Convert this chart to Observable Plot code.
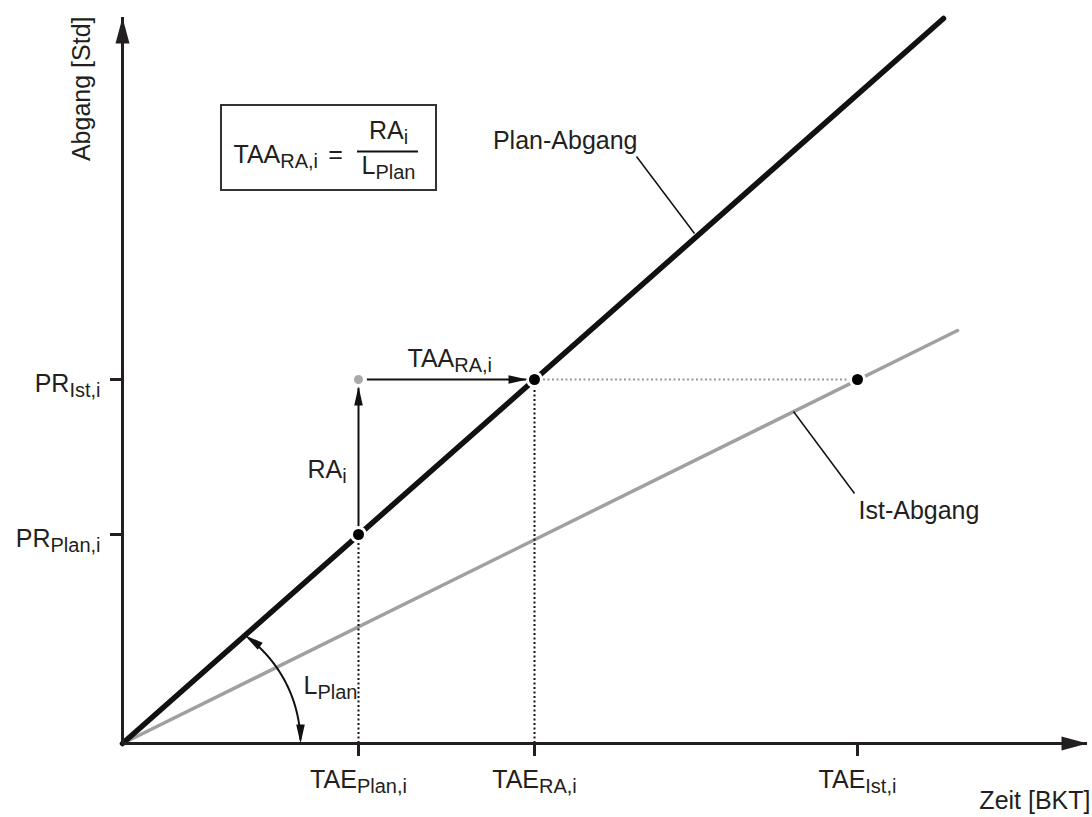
<!DOCTYPE html>
<html>
<head>
<meta charset="utf-8">
<script src="https://cdn.jsdelivr.net/npm/d3@7"></script>
<script src="https://cdn.jsdelivr.net/npm/@observablehq/plot@0.6"></script>
<style>
  html, body { margin: 0; padding: 0; background: #fff; }
  #chart svg { display: block; }
</style>
</head>
<body>
<div id="chart"></div>
<script>
// ---- data (abstract units: Zeit [BKT] on x, Abgang [Std] on y) ----
const xTickLabels = ["TAE_{Plan,i}", "TAE_{RA,i}", "TAE_{Ist,i}"];
const xTickValues = [23.6, 41.2, 73.5];
const yTickLabels = ["PR_{Plan,i}", "PR_{Ist,i}"];
const yTickValues = [20.9, 36.4];
const planLine = [{t: 0, v: 0}, {t: 82.1, v: 72.5}];
const istLine = [{t: 0, v: 0}, {t: 83.5, v: 41.3}];
const axisEnds = {x: 96.5, y: 72.6};

const [TAE_Plan, TAE_RA, TAE_Ist] = xTickValues;
const [PR_Plan, PR_Ist] = yTickValues;

// points
const blackPoints = [{t: TAE_Plan, v: PR_Plan}, {t: TAE_RA, v: PR_Ist}, {t: TAE_Ist, v: PR_Ist}];
const grayPoints = [{t: TAE_Plan, v: PR_Ist}];

// angle arc (L_Plan annotation)
const arcC = 4.5, arcR = 13.3, arcEnd = 54.5;
const arcPts = d3.range(2, arcEnd - 2.4, 0.5).map(a => ({
  t: arcC + arcR * Math.cos(a * Math.PI / 180),
  v: arcR * Math.sin(a * Math.PI / 180)
}));
const arcTop = {t: arcC + arcR * Math.cos(arcEnd * Math.PI / 180), v: arcR * Math.sin(arcEnd * Math.PI / 180), rot: -arcEnd};
const arcBottom = {t: arcC + arcR, v: 0, rot: 180};

// arrowhead symbols (tip at origin, pointing up)
const headSmall = {draw(ctx) { ctx.moveTo(0, 0); ctx.lineTo(-4.3, 19); ctx.lineTo(4.3, 19); ctx.closePath(); }};
const headBig = {draw(ctx) { ctx.moveTo(0, 0); ctx.lineTo(-7, 26); ctx.lineTo(7, 26); ctx.closePath(); }};

const ink = "#231f20";
const font = "'Liberation Sans', Arial, Helvetica, sans-serif";
const FS = 25, SUB = 20;

const svg = Plot.plot({
  width: 1092,
  height: 817,
  margin: 0,
  x: {domain: [-12.2, 97], range: [0, 1092], axis: null},
  y: {domain: [-7.4, 74.3], range: [817, 0], axis: null},
  style: {fontFamily: font, background: "#fff"},
  marks: [
    // Ist / Plan lines
    Plot.line(istLine, {x: "t", y: "v", stroke: "#a0a0a0", strokeWidth: 3.5}),
    Plot.line(planLine, {x: "t", y: "v", stroke: "#111", strokeWidth: 5.5}),
    // dotted guides
    Plot.ruleX([{t: TAE_Plan, v: PR_Plan}, {t: TAE_RA, v: PR_Ist}], {x: "t", y1: 0, y2: "v", stroke: "#111", strokeWidth: 2, strokeDasharray: "2,2.5"}),
    Plot.ruleY([{v: PR_Ist, a: TAE_RA, b: TAE_Ist}], {y: "v", x1: "a", x2: "b", stroke: "#999", strokeWidth: 2, strokeDasharray: "2,2.5"}),
    // RA and TAA arrows (shafts)
    Plot.link([{a: TAE_Plan, b: PR_Plan, c: TAE_Plan, d: PR_Ist}, {a: TAE_Plan, b: PR_Ist, c: TAE_RA, d: PR_Ist}],
      {x1: "a", y1: "b", x2: "c", y2: "d", stroke: "#111", strokeWidth: 2}),
    // leader lines
    Plot.link([{a: 51.4, b: 58.7, c: 57.2, d: 51.0}, {a: 67.1, b: 33.2, c: 73.2, d: 25.0}],
      {x1: "a", y1: "b", x2: "c", y2: "d", stroke: "#111", strokeWidth: 1.5}),
    // angle arc
    Plot.line(arcPts, {x: "t", y: "v", stroke: "#111", strokeWidth: 2}),
    // axes
    Plot.ruleY([0], {x1: 0, x2: axisEnds.x, stroke: ink, strokeWidth: 3}),
    Plot.ruleX([0], {y1: 0, y2: axisEnds.y, stroke: ink, strokeWidth: 3}),
    Plot.ruleX(xTickValues, {y1: 0, y2: -1.3, stroke: ink, strokeWidth: 3}),
    Plot.ruleY(yTickValues, {x1: -1.2, x2: 0, stroke: ink, strokeWidth: 3}),
    // halos and points
    Plot.dot([...blackPoints, ...grayPoints], {x: "t", y: "v", r: 8.5, fill: "white"}),
    Plot.dot(blackPoints, {x: "t", y: "v", r: 5.5, fill: "#000"}),
    Plot.dot(grayPoints, {x: "t", y: "v", r: 4.5, fill: "#aaa"}),
    // arrowheads
    Plot.dot([{t: 0, v: axisEnds.y}], {x: "t", y: "v", symbol: headBig, fill: ink, rotate: 0}),
    Plot.dot([{t: axisEnds.x, v: 0}], {x: "t", y: "v", symbol: headBig, fill: ink, rotate: 90}),
    Plot.dot([{t: TAE_Plan, v: PR_Ist}], {x: "t", y: "v", dy: 7, symbol: headSmall, fill: "#111", rotate: 0}),
    Plot.dot([{t: TAE_RA, v: PR_Ist}], {x: "t", y: "v", dx: -7, symbol: headSmall, fill: "#111", rotate: 90}),
    Plot.dot([arcTop, arcBottom], {x: "t", y: "v", symbol: headSmall, fill: "#111", rotate: "rot"}),
    // formula box
    Plot.rect([{a: 9.9, b: 31.4, c: 55.3, d: 63.8}], {x1: "a", x2: "b", y1: "c", y2: "d", fill: "white", stroke: "#333", strokeWidth: 2}),
    Plot.ruleY([59.2], {x1: 23.5, x2: 29.6, stroke: "#111", strokeWidth: 2}),
    Plot.text(["TAA_{RA,i}"], {x: 11.1, y: 58.1, text: d => d, textAnchor: "start", lineAnchor: "bottom", fontSize: FS, fill: ink}),
    Plot.text(["="], {x: 21.3, y: 58.1, text: d => d, textAnchor: "middle", lineAnchor: "bottom", fontSize: FS, fill: ink}),
    Plot.text(["RA_{i}"], {x: 26.6, y: 60.5, text: d => d, textAnchor: "middle", lineAnchor: "bottom", fontSize: FS, fill: ink}),
    Plot.text(["L_{Plan}"], {x: 26.6, y: 57.0, text: d => d, textAnchor: "middle", lineAnchor: "bottom", fontSize: FS, fill: ink}),
    // tick labels
    Plot.text(xTickValues, {x: d => d, y: -4.4, text: (d, i) => xTickLabels[i], textAnchor: "middle", lineAnchor: "bottom", fontSize: FS, fill: ink}),
    Plot.text(yTickValues, {x: -2.2, y: d => d - 1.2, text: (d, i) => yTickLabels[i], textAnchor: "end", lineAnchor: "bottom", fontSize: FS, fill: ink}),
    // axis titles
    Plot.text(["Abgang [Std]"], {x: -3.3, y: 72.7, text: d => d, rotate: -90, textAnchor: "end", lineAnchor: "bottom", fontSize: FS, fill: ink}),
    Plot.text(["Zeit [BKT]"], {x: 96.8, y: -6.5, text: d => d, textAnchor: "end", lineAnchor: "bottom", fontSize: FS, fill: ink}),
    // annotations
    Plot.text(["Plan-Abgang"], {x: 51.5, y: 59.5, text: d => d, textAnchor: "end", lineAnchor: "bottom", fontSize: FS, fill: ink}),
    Plot.text(["Ist-Abgang"], {x: 73.6, y: 22.5, text: d => d, textAnchor: "start", lineAnchor: "bottom", fontSize: FS, fill: ink}),
    Plot.text(["RA_{i}"], {x: 18.5, y: 26.6, text: d => d, textAnchor: "start", lineAnchor: "bottom", fontSize: FS, fill: ink}),
    Plot.text(["TAA_{RA,i}"], {x: 28.5, y: 37.7, text: d => d, textAnchor: "start", lineAnchor: "bottom", fontSize: FS, fill: ink}),
    Plot.text(["L_{Plan}"], {x: 18.1, y: 5.0, text: d => d, textAnchor: "start", lineAnchor: "bottom", fontSize: FS, fill: ink})
  ]
});

// subscripts: turn "X_{sub}" into tspans
const NS = "http://www.w3.org/2000/svg";
svg.querySelectorAll("text").forEach(el => {
  const s = el.textContent;
  if (!s.includes("_{")) return;
  el.textContent = "";
  let shift = 0;
  s.split(/(_\{[^}]*\})/).filter(p => p).forEach(p => {
    const t = document.createElementNS(NS, "tspan");
    if (p.startsWith("_{")) {
      t.textContent = p.slice(2, -1);
      t.setAttribute("font-size", SUB + "px");
      t.setAttribute("dy", 5 - shift);
      shift = 5;
    } else {
      t.textContent = p;
      if (shift) t.setAttribute("dy", -shift);
      shift = 0;
    }
    el.appendChild(t);
  });
});

document.getElementById("chart").appendChild(svg);
</script>
</body>
</html>
